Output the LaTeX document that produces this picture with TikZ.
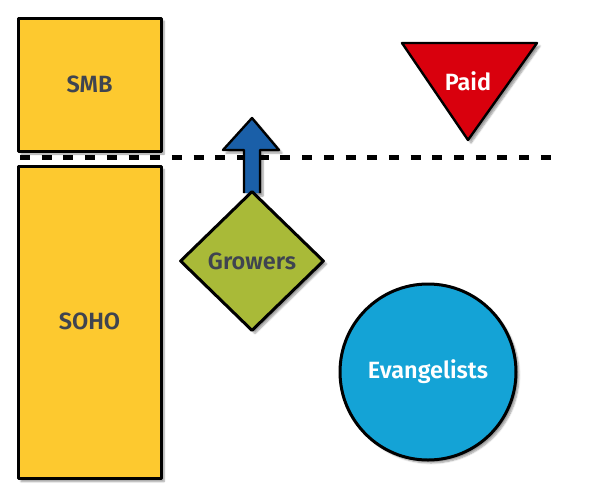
\documentclass[tikz,border=0pt]{standalone}
\usepackage{fontspec}
\setsansfont{Fira Sans}[BoldFont={Fira Sans SemiBold}]
\usetikzlibrary{shapes.geometric,shadows.blur}
\definecolor{ylw}{HTML}{FDC92F}
\definecolor{grn}{HTML}{A9BA38}
\definecolor{arw}{HTML}{1A5FA8}
\definecolor{rd}{HTML}{D9000D}
\definecolor{cyn}{HTML}{14A3D6}
\definecolor{txt}{HTML}{3F4450}
\tikzset{
  lbl/.style={font=\sffamily\bfseries\fontsize{23.5}{26}\selectfont},
  outl/.style={draw=black, line width=3pt, line join=round},
  shad/.style={blur shadow={shadow xshift=3pt, shadow yshift=-3pt, shadow blur steps=6, shadow opacity=40}},
  box/.style={outl, shad, fill=ylw, lbl, text=txt, inner sep=0pt},
}
\begin{document}
\begin{tikzpicture}[x=1pt,y=-1pt]
\useasboundingbox (0,0) rectangle (600,491);
% dashed line
\coordinate (dl) at (20,157);
\coordinate (dr) at (556,157);
\draw[line width=5pt, dash pattern=on 10pt off 11.7pt] (dl) -- (dr);
% boxes
\node[box, minimum width=143pt, minimum height=133pt] (smb) at (89.5,84.5) {SMB};
\node[box, minimum width=143pt, minimum height=312pt, anchor=north] (soho) at (89.5,165) {};
\node[lbl, text=txt] (sohot) at (89.5,321) {SOHO};
% arrow
\fill[arw, shad] (244,193) -- (244,150) -- (223,150) -- (252,118) -- (279,150) -- (260,150) -- (260,193) -- cycle;
\draw[outl, line width=2.4pt] (244,193) -- (244,150) -- (223,150) -- (252,118) -- (279,150) -- (260,150) -- (260,193);
% diamond
\node[diamond, outl, shad, fill=grn, minimum width=144pt, minimum height=140pt, inner sep=0pt, lbl, text=txt] (grow) at (252,261) {Growers};
% triangle
\fill[rd, shad] (402,43) -- (537,43) -- (468,140) -- cycle;
\draw[outl, line width=2.4pt] (402,43) -- (537,43) -- (468,140) -- cycle;
\node[lbl, text=white] (paid) at (468,81) {Paid};
% circle
\node[circle, outl, shad, fill=cyn, minimum size=176pt, inner sep=0pt, lbl, text=white] (evan) at (428,372) {Evangelists};
\end{tikzpicture}
\end{document}
